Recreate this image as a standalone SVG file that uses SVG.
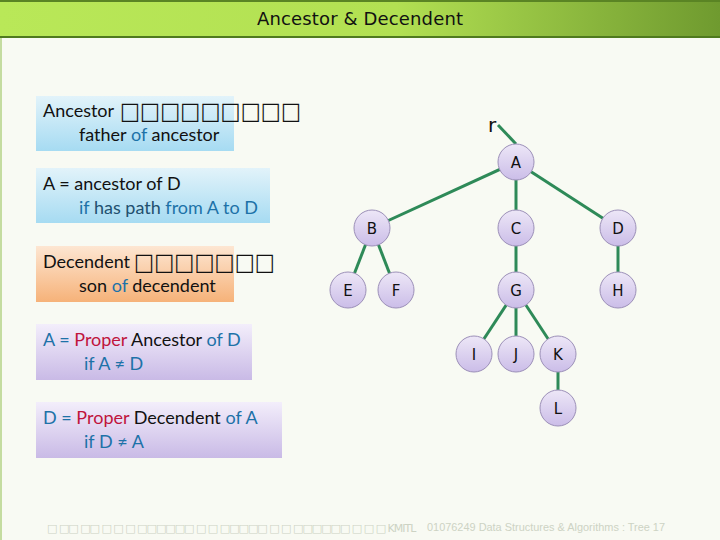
<svg xmlns="http://www.w3.org/2000/svg" width="720" height="540" viewBox="0 0 720 540">
<defs>
<linearGradient id="gTitle" x1="0" y1="0" x2="1" y2="0">
<stop offset="0" stop-color="#b9e858"/><stop offset="0.55" stop-color="#b2e052"/><stop offset="1" stop-color="#6f9a2f"/>
</linearGradient>
<linearGradient id="gBlue" x1="0" y1="0" x2="0" y2="1">
<stop offset="0" stop-color="#e2f3fa"/><stop offset="1" stop-color="#a6dbf2"/>
</linearGradient>
<linearGradient id="gOrange" x1="0" y1="0" x2="0" y2="1">
<stop offset="0" stop-color="#fde6d2"/><stop offset="1" stop-color="#f6b279"/>
</linearGradient>
<linearGradient id="gLav" x1="0" y1="0" x2="0" y2="1">
<stop offset="0" stop-color="#f3eefb"/><stop offset="1" stop-color="#c9bae6"/>
</linearGradient>
<linearGradient id="gNode" x1="0" y1="0" x2="0" y2="1">
<stop offset="0" stop-color="#ede7f7"/><stop offset="1" stop-color="#cbbde8"/>
</linearGradient>
<style>
.t{font-family:Lato,"Open Sans",sans-serif;font-size:18px;fill:#111}
.b{fill:#1d72a8}
.d{fill:#22506f}
.r{fill:#c0143c}
.tofu{font-family:"DejaVu Sans",sans-serif;font-size:24px;fill:#111}
.edge{stroke:#2e8a58;stroke-width:3;fill:none}
.node circle{fill:url(#gNode);stroke:#9c90b8;stroke-width:1}
.node text{font-family:"DejaVu Sans",sans-serif;font-size:15px;fill:#111;text-anchor:middle}
.foot{font-family:"Liberation Sans",sans-serif;font-size:11px;fill:#cdd3c4}
.foot2{font-family:"DejaVu Sans",sans-serif;font-size:11px;letter-spacing:-1px;fill:#cdd3c4}
</style>
</defs>
<rect width="720" height="540" fill="#f8faf3"/>
<line x1="1" y1="37" x2="1" y2="540" stroke="#c4dca0" stroke-width="2"/>
<g id="title">
<rect x="0" y="0" width="720" height="37" fill="url(#gTitle)"/>
<line x1="0" y1="1" x2="720" y2="1" stroke="#5a8424" stroke-width="2"/>
<line x1="0" y1="37" x2="720" y2="37" stroke="#4f7a1e" stroke-width="2"/>
<text x="360" y="25" text-anchor="middle" font-family="'DejaVu Sans',sans-serif" font-size="18" fill="#111" textLength="206">Ancestor &amp; Decendent</text>
</g>

<g id="box-ancestor">
<rect x="36" y="96" width="198" height="55" fill="url(#gBlue)"/>
<text class="t" x="43" y="117">Ancestor</text>
<text class="tofu" x="120" y="119" textLength="181" lengthAdjust="spacingAndGlyphs">□□□□□□□□□</text>
<text class="t" x="79" y="141">father <tspan class="b">of</tspan> ancestor</text>
</g>
<g id="box-path">
<rect x="36" y="168" width="234" height="55" fill="url(#gBlue)"/>
<text class="t" x="43" y="190">A = ancestor of D</text>
<text class="t" x="79" y="214"><tspan class="b">if</tspan> <tspan class="d">has path</tspan> <tspan class="b">from A to D</tspan></text>
</g>
<g id="box-decendent">
<rect x="36" y="246" width="198" height="56" fill="url(#gOrange)"/>
<text class="t" x="43" y="268">Decendent</text>
<text class="tofu" x="134" y="270" textLength="141" lengthAdjust="spacingAndGlyphs">□□□□□□□</text>
<text class="t" x="79" y="292">son <tspan class="b">of</tspan> decendent</text>
</g>
<g id="box-proper-anc">
<rect x="36" y="324" width="216" height="56" fill="url(#gLav)"/>
<text class="t" x="43" y="346"><tspan class="b">A = </tspan><tspan class="r">Proper</tspan> Ancestor <tspan class="b">of D</tspan></text>
<text class="t b" x="84" y="370">if A ≠ D</text>
</g>
<g id="box-proper-dec">
<rect x="36" y="402" width="246" height="56" fill="url(#gLav)"/>
<text class="t" x="43" y="424"><tspan class="b">D = </tspan><tspan class="r">Proper</tspan> Decendent <tspan class="b">of A</tspan></text>
<text class="t b" x="84" y="448">if D ≠ A</text>
</g>

<g id="edges">
<line class="edge" x1="498" y1="125" x2="516" y2="144"/>
<line class="edge" x1="516" y1="162" x2="372" y2="228"/>
<line class="edge" x1="516" y1="162" x2="516" y2="228"/>
<line class="edge" x1="516" y1="162" x2="618" y2="228"/>
<line class="edge" x1="372" y1="228" x2="348" y2="290"/>
<line class="edge" x1="372" y1="228" x2="396" y2="290"/>
<line class="edge" x1="516" y1="228" x2="516" y2="290"/>
<line class="edge" x1="618" y1="228" x2="618" y2="290"/>
<line class="edge" x1="516" y1="290" x2="474" y2="354"/>
<line class="edge" x1="516" y1="290" x2="516" y2="354"/>
<line class="edge" x1="516" y1="290" x2="558" y2="354"/>
<line class="edge" x1="558" y1="354" x2="558" y2="408"/>
</g>

<g id="r"><text x="492" y="132" text-anchor="middle" font-family="'DejaVu Sans',sans-serif" font-size="20" fill="#111">r</text></g>
<g id="A" class="node"><circle cx="516" cy="162" r="18"/><text x="516" y="168">A</text></g>
<g id="B" class="node"><circle cx="372" cy="228" r="18"/><text x="372" y="234">B</text></g>
<g id="C" class="node"><circle cx="516" cy="228" r="18"/><text x="516" y="234">C</text></g>
<g id="D" class="node"><circle cx="618" cy="228" r="18"/><text x="618" y="234">D</text></g>
<g id="E" class="node"><circle cx="348" cy="290" r="18"/><text x="348" y="296">E</text></g>
<g id="F" class="node"><circle cx="396" cy="290" r="18"/><text x="396" y="296">F</text></g>
<g id="G" class="node"><circle cx="516" cy="290" r="18"/><text x="516" y="296">G</text></g>
<g id="H" class="node"><circle cx="618" cy="290" r="18"/><text x="618" y="296">H</text></g>
<g id="I" class="node"><circle cx="474" cy="354" r="18"/><text x="474" y="360">I</text></g>
<g id="J" class="node"><circle cx="516" cy="354" r="18"/><text x="516" y="360">J</text></g>
<g id="K" class="node"><circle cx="558" cy="354" r="18"/><text x="558" y="360">K</text></g>
<g id="L" class="node"><circle cx="558" cy="408" r="18"/><text x="558" y="414">L</text></g>

<g id="footer">
<text class="foot2" x="47" y="532">□ □□ □□ □ □ □ □□□□□□ □ □ □□□□□ □ □ □□□□□□ □ □ □ KMITL</text>
<text class="foot" x="427" y="531" textLength="238" lengthAdjust="spacingAndGlyphs">01076249 Data Structures &amp; Algorithms : Tree 17</text>
</g>
</svg>
